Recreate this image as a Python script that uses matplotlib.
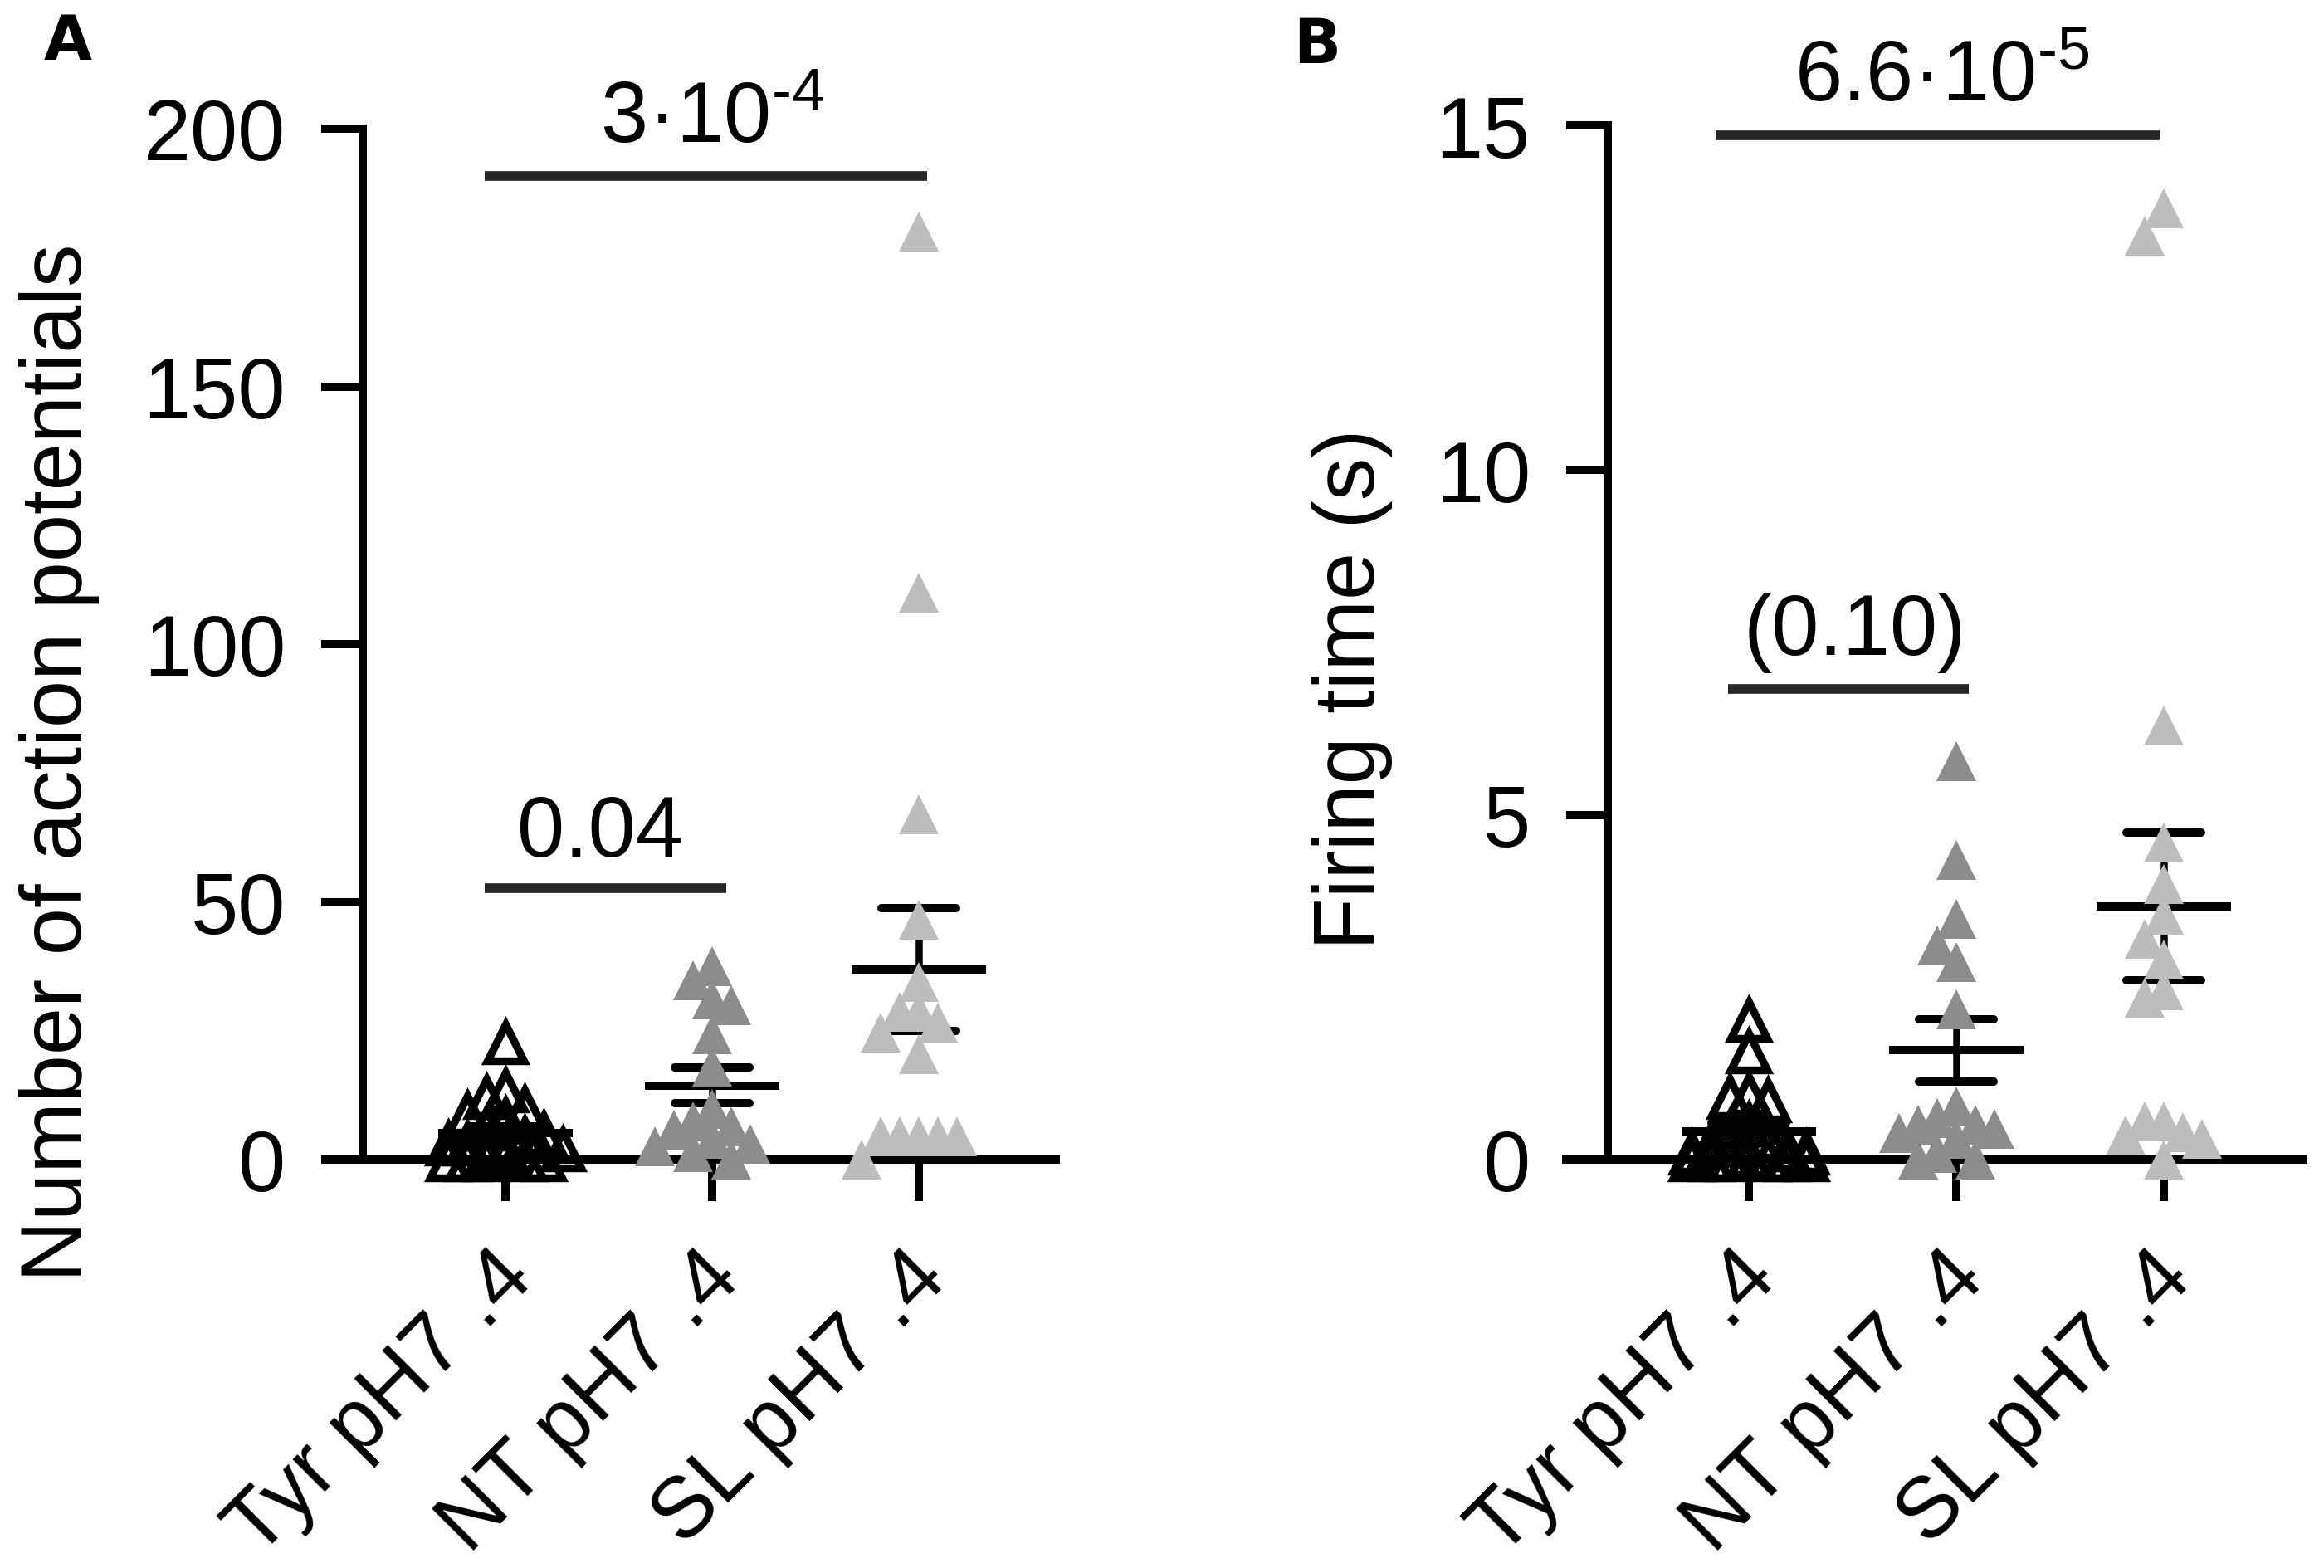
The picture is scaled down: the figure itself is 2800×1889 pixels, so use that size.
import numpy as np
import matplotlib
matplotlib.use("Agg")
import matplotlib.pyplot as plt
import matplotlib.transforms as mtransforms

plt.rcParams['font.family'] = ['Liberation Sans', 'DejaVu Sans']
plt.rcParams['mathtext.fontset'] = 'custom'
plt.rcParams['mathtext.rm'] = 'Liberation Sans'
plt.rcParams['mathtext.it'] = 'Liberation Sans:italic'
plt.rcParams['mathtext.bf'] = 'Liberation Sans:bold'

# ---------------- data ----------------
categories = ["Tyr pH7 .4", "NT pH7 .4", "SL pH7 .4"]

# Panel A: number of action potentials
tyr_ap = [22.7, 13.4, 12, 10, 8.8, 7.7, 6, 5, 4, 3, 3, 2, 2, 1, 1, 0, 0, 0, 0, 0]
nt_ap = [37.5, 34.8, 31, 30, 24.3, 18, 9.8, 7.4, 6.5, 5.8, 4, 3, 2.5, 1.5, 0]
sl_ap = [180, 110, 67, 46.5, 34.4, 28.6, 28.6, 26.5, 24.6, 20.4, 4.5, 4.5, 4.5, 4.5, 4.5, 0]

# Panel B: firing time (s)
tyr_ft = [2.02, 1.56, 0.94, 0.9, 0.85, 0.5, 0.4, 0.3, 0.2, 0.15, 0.1, 0.1, 0.05, 0.05, 0, 0, 0, 0, 0, 0]
nt_ft = [5.78, 4.34, 3.49, 3.11, 2.86, 2.18, 0.77, 0.6, 0.5, 0.5, 0.45, 0.38, 0.3, 0.1, 0, 0]
sl_ft = [13.8, 13.4, 6.3, 4.6, 4.0, 3.55, 3.2, 2.9, 2.45, 2.35, 0.55, 0.55, 0.4, 0.35, 0.3, 0]

yticks_a = [0, 50, 100, 150, 200]
yticks_b = [0, 5, 10, 15]
ylabel_a = "Number of action potentials"
ylabel_b = "Firing time (s)"

# significance annotations: (x_start, x_end, y_bar, label, x_text, y_text)
sig_a = [(-0.10, 2.04, 190.8, "$\\mathregular{3·10^{\u20104}}$", 1.0, 197.4),
         (-0.10, 1.07, 52.6, "0.04", 0.46, 58.9)]
sig_b = [(-0.16, 1.98, 14.86, "$\\mathregular{6.6·10^{\u20105}}$", 0.93, 15.36),
         (-0.10, 1.06, 6.83, "(0.10)", 0.51, 7.33)]

# ---------------- style ----------------
W, H = 2800, 1890
DPI = 200
LW = 3.6
FS = 37
colors = ["black", "#8c8c8c", "#bdbdbd"]

fig = plt.figure(figsize=(W / DPI, H / DPI), dpi=DPI)
axA = fig.add_axes([393 / W, (H - 1398) / H, (1272 - 393) / W, (1398 - 156) / H])
axB = fig.add_axes([1887 / W, (H - 1398) / H, (2774 - 1887) / W, (1398 - 152) / H])


def swarm(ax, values, step_px=23.0, ythr_px=34.0, kmax=3):
    placed = []
    offs = []
    cands = [0]
    for k in range(1, kmax + 1):
        cands += [-k, k]
    for v in values:
        ypx = ax.transData.transform((0, v))[1]
        best, best_n = None, None
        for k in cands:
            xo = k * step_px
            n = sum(1 for px, py in placed
                    if abs(xo - px) < step_px * 0.99 and abs(ypx - py) < ythr_px)
            if best_n is None or n < best_n:
                best, best_n = xo, n
            if n == 0:
                break
        placed.append((best, ypx))
        offs.append(best)
    x0 = ax.transData.transform((0, 0))[0]
    x1 = ax.transData.transform((1, 0))[0]
    return np.array(offs) / (x1 - x0)


def panel(ax, groups, ymax, yticks, ylabel, xl, spine_x, sigs, label_x, label_y):
    ax.set_xlim(*xl)
    ax.set_ylim(0, ymax)
    for s in ["top", "right"]:
        ax.spines[s].set_visible(False)
    ax.spines["left"].set_position(("data", spine_x))
    ax.spines["left"].set_linewidth(LW)
    ax.spines["bottom"].set_linewidth(LW)
    ax.set_yticks(yticks)
    ax.set_xticks(range(len(categories)))
    ax.tick_params(axis="both", length=18, width=LW, labelsize=FS, direction="out")
    ax.tick_params(axis="y", pad=15.5)
    ax.tick_params(axis="x", pad=27.7)
    ax.set_xticklabels(categories, rotation=45, ha="right", va="center",
                       rotation_mode="anchor")
    off = mtransforms.ScaledTranslation(6.5 / 72, 0, fig.dpi_scale_trans)
    for lbl in ax.get_xticklabels():
        lbl.set_transform(lbl.get_transform() + off)
    ax.set_ylabel(ylabel, fontsize=FS)
    ax.yaxis.set_label_coords(label_x, label_y)

    for i, vals in enumerate(groups):
        vals = np.asarray(vals, dtype=float)
        m = vals.mean()
        sem = vals.std(ddof=1) / np.sqrt(len(vals))
        ax.hlines(m, i - 0.325, i + 0.325, color="black", lw=LW, zorder=2,
                  capstyle="butt")
        ax.hlines([m - sem, m + sem], i - 0.18, i + 0.18, color="black", lw=LW,
                  zorder=2, capstyle="round")
        ax.vlines(i, m - sem, m + sem, color="black", lw=LW * 0.85, zorder=2)
        xo = swarm(ax, vals)
        if i == 0:
            ax.plot(i + xo, vals, linestyle="none", marker="^", ms=15.5,
                    mfc="none", mec="black", mew=3.4, clip_on=False, zorder=3)
        else:
            ax.plot(i + xo, vals, linestyle="none", marker="^", ms=17.3,
                    mfc=colors[i], mec="none", mew=0, clip_on=False, zorder=3)

    for xs, xe, yb, txt, xt, yt in sigs:
        ax.plot([xs, xe], [yb, yb], color="#262626", lw=4.2, clip_on=False,
                solid_capstyle="butt", zorder=4)
        ax.text(xt, yt, txt, ha="center", va="baseline", fontsize=FS, clip_on=False)


panel(axA, [tyr_ap, nt_ap, sl_ap], 200, yticks_a, ylabel_a, (-0.867, 2.663), -0.69,
      sig_a, -0.311, 0.386)
panel(axB, [tyr_ft, nt_ft, sl_ft], 15, yticks_b, ylabel_b, (-0.88, 2.668), -0.68,
      sig_b, -0.236, 0.456)

fig.text(82 / W, 1 - 52 / H, "A", family="DejaVu Sans", weight="bold", fontsize=27,
         ha="center", va="center")
fig.text(1587 / W, 1 - 55 / H, "B", family="DejaVu Sans", weight="bold", fontsize=27,
         ha="center", va="center")

fig.savefig("out.png", dpi=DPI, facecolor="white")
